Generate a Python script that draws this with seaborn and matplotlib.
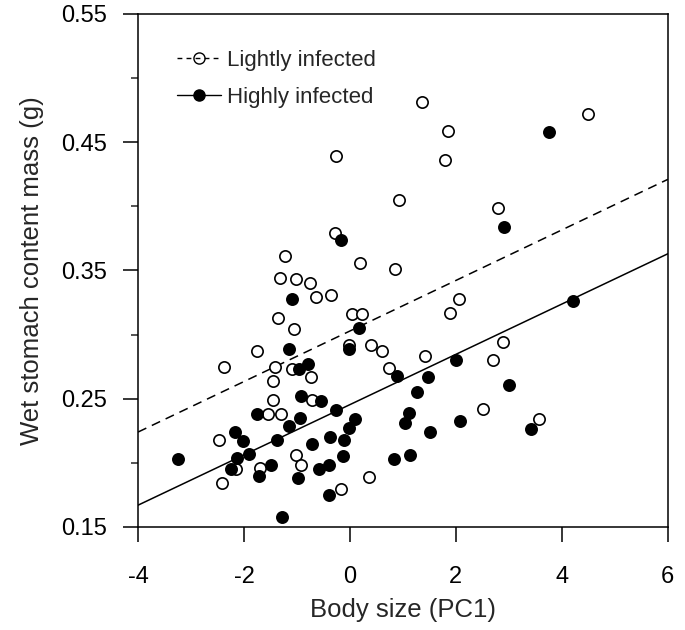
import numpy as np
import pandas as pd
import matplotlib
matplotlib.use('Agg')
import matplotlib.pyplot as plt
import seaborn as sns
from matplotlib.lines import Line2D
from matplotlib.ticker import MultipleLocator

# Lightly infected (open circles)
light_x = [1.36, 4.49, 1.85, 1.79, -0.26, 0.92, 2.79, -0.29, 0.18, 0.85,
           -1.22, -1.32, -1.01, -0.76, -0.64, -0.35, 2.05, 0.03, 0.22, 1.89,
           -1.35, -1.06, -0.02, 0.40, 0.61, 2.89, -1.76, 1.41, 2.70, -2.38,
           -1.41, -1.09, 0.74, -1.45, -0.74, -1.46, -0.72, 2.52, -1.55, -1.30,
           3.56, -2.48, -1.01, -0.93, -1.70, -2.15, -2.42, -0.17, 0.35]
light_y = [0.481, 0.472, 0.459, 0.436, 0.439, 0.405, 0.399, 0.379, 0.356, 0.351,
           0.361, 0.344, 0.343, 0.340, 0.329, 0.331, 0.328, 0.316, 0.316, 0.317,
           0.313, 0.304, 0.292, 0.292, 0.287, 0.294, 0.287, 0.283, 0.280, 0.275,
           0.275, 0.273, 0.274, 0.264, 0.267, 0.249, 0.249, 0.242, 0.238, 0.238,
           0.234, 0.218, 0.206, 0.198, 0.196, 0.195, 0.184, 0.180, 0.189]

# Highly infected (filled circles)
heavy_x = [3.75, 2.90, -0.17, -1.09, 4.21, 0.17, -1.15, -0.01, 2.00, -0.79,
           -0.97, 0.88, 1.47, 3.00, 1.26, -0.93, -0.54, -0.27, -1.76, -0.94,
           0.10, 1.11, 1.04, 2.07, -1.16, -0.02, -2.17, 1.51, 3.42, -1.37,
           -0.38, -0.12, -2.01, -0.71, -1.91, -2.14, -3.25, -0.13, 0.84, 1.13,
           -2.25, -1.49, -0.59, -0.40, -1.71, -0.98, -0.40, -1.29]
heavy_y = [0.458, 0.384, 0.374, 0.328, 0.326, 0.305, 0.289, 0.289, 0.280, 0.277,
           0.273, 0.268, 0.267, 0.261, 0.255, 0.252, 0.248, 0.241, 0.238, 0.235,
           0.234, 0.239, 0.231, 0.233, 0.229, 0.227, 0.224, 0.224, 0.226, 0.218,
           0.220, 0.218, 0.217, 0.215, 0.207, 0.204, 0.203, 0.205, 0.203, 0.206,
           0.195, 0.198, 0.195, 0.198, 0.190, 0.188, 0.175, 0.158]

# fitted lines (read at the axis ends)
fit_x = [-4, 6]
light_fit = [0.224, 0.421]
heavy_fit = [0.167, 0.363]

x_ticks = [-4, -2, 0, 2, 4, 6]
y_ticks = [0.15, 0.25, 0.35, 0.45, 0.55]

light_df = pd.DataFrame({'pc1': light_x, 'mass': light_y})
heavy_df = pd.DataFrame({'pc1': heavy_x, 'mass': heavy_y})

sns.set_style('ticks')
plt.rcParams['font.family'] = ['Liberation Sans', 'DejaVu Sans']

fig = plt.figure(figsize=(6.85, 6.3), dpi=100)
ax = fig.add_axes([0.2015, 0.1635, 0.7735, 0.8145])

sns.lineplot(x=fit_x, y=light_fit, ax=ax, color='black', lw=1.1, linestyle=(0, (6, 4)))
sns.lineplot(x=fit_x, y=heavy_fit, ax=ax, color='black', lw=1.1)

sns.scatterplot(data=light_df, x='pc1', y='mass', ax=ax, s=66, marker='o',
                facecolor='white', edgecolor='black', linewidth=1.2, zorder=3)
sns.scatterplot(data=heavy_df, x='pc1', y='mass', ax=ax, s=66, marker='o',
                color='black', edgecolor='black', linewidth=1.2, zorder=4)

ax.set_xlim(-4, 6)
ax.set_ylim(0.15, 0.55)
ax.set_xticks(x_ticks)
ax.set_xticklabels([str(t) for t in x_ticks])
ax.set_yticks(y_ticks)
ax.set_yticklabels([f'{t:.2f}' for t in y_ticks])
ax.yaxis.set_minor_locator(MultipleLocator(0.1))
ax.tick_params(axis='both', which='major', direction='out', length=11, width=1.1,
               labelsize=17, colors='black')
ax.tick_params(axis='x', which='major', pad=17)
ax.tick_params(axis='y', which='major', pad=11)
ax.tick_params(axis='y', which='minor', direction='out', length=5, width=1.1)
ax.set_xlabel('Body size (PC1)', fontsize=18.5, labelpad=7)
ax.set_ylabel('Wet stomach content mass (g)', fontsize=18.5, labelpad=13)

for side in ['left', 'bottom', 'right', 'top']:
    ax.spines[side].set_visible(True)
    ax.spines[side].set_linewidth(1.1)
    ax.spines[side].set_color('black')

handles = [
    Line2D([], [], color='black', lw=1.0, linestyle=(0, (3.5, 3)), marker='o',
           markersize=8, markerfacecolor='none', markeredgecolor='black', markeredgewidth=1.0),
    Line2D([], [], color='black', lw=1.0, marker='o', markersize=8,
           markerfacecolor='black', markeredgecolor='black'),
]
ax.legend(handles, ['Lightly infected', 'Highly infected'], loc='upper left',
          bbox_to_anchor=(0.074, 0.93), borderaxespad=0, borderpad=0,
          frameon=False, fontsize=16, handlelength=1.95, handletextpad=0.3,
          labelspacing=0.73)

fig.savefig('out.png', dpi=100)
